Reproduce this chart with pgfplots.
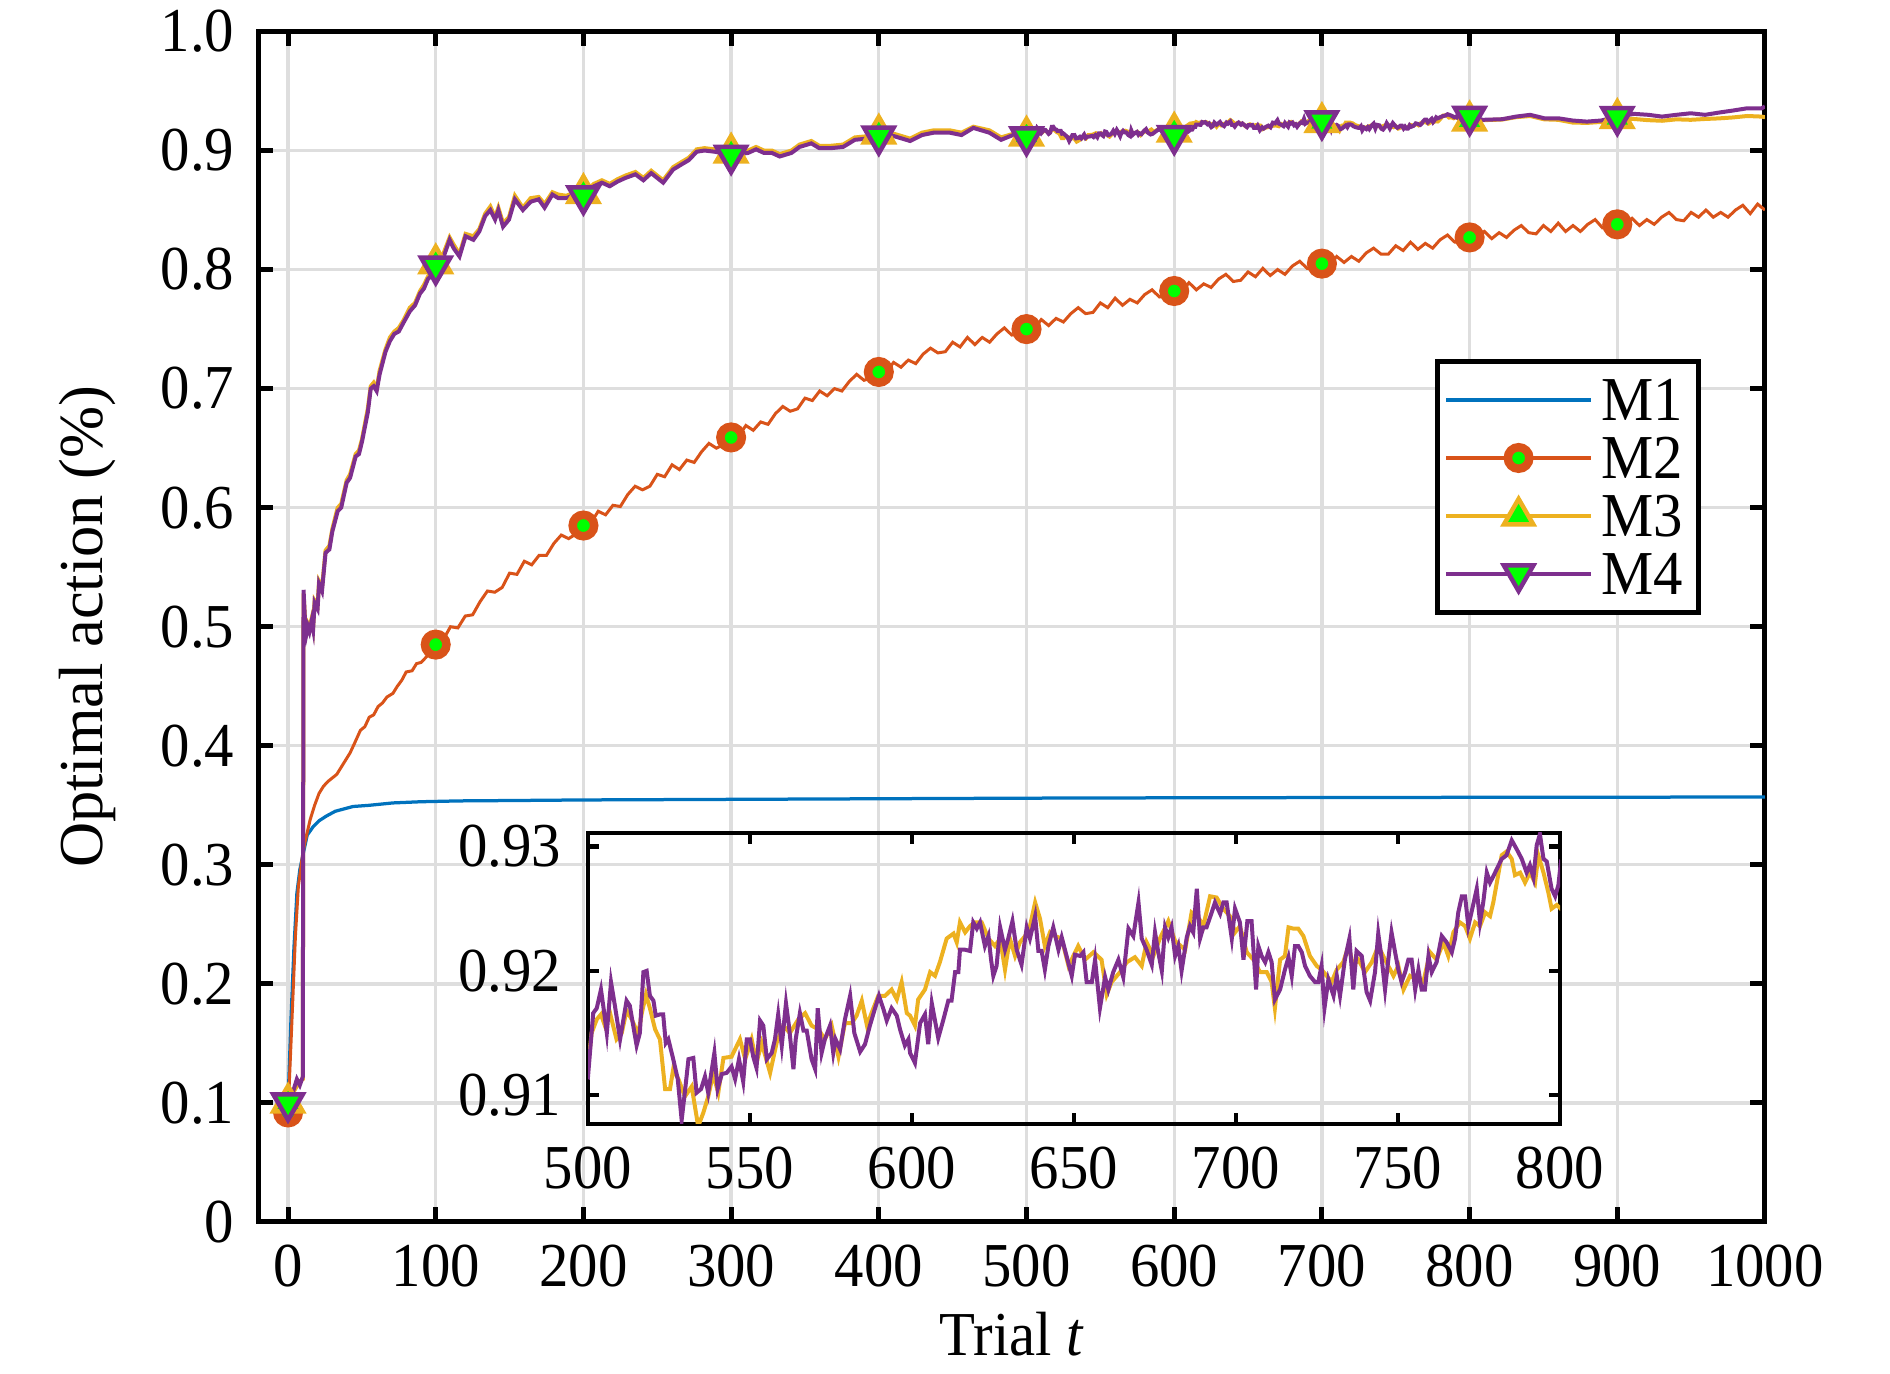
\documentclass[border=0pt]{standalone}
\usepackage{pgfplots}
\pgfplotsset{compat=1.18}
\usepackage{pgfplotstable}
\usepackage{fontspec}
\setmainfont{Liberation Serif}[FakeStretch=0.94]
\newfontfamily\ylabfont{Liberation Serif}
\newcommand{\fs}{\fontsize{12.5}{15}\selectfont}
\definecolor{c1}{RGB}{0,114,189}
\definecolor{c2}{RGB}{217,83,25}
\definecolor{c3}{RGB}{237,177,32}
\definecolor{c4}{RGB}{126,47,142}
\definecolor{mg}{RGB}{0,255,0}
\definecolor{gridc}{RGB}{222,222,222}

\pgfplotstableread{
x y
0 0.100
2 0.170
4 0.230
6 0.276
8 0.296
10.4 0.310
13 0.325
17 0.332
21 0.337
26 0.341
32 0.345
38 0.347
44 0.349
55 0.350
71 0.352
90 0.353
116 0.3537
150 0.354
200 0.3545
300 0.355
400 0.3555
500 0.356
600 0.3563
700 0.3565
800 0.3567
900 0.3568
1000 0.357
}\Mone

\pgfplotstableread{
x y
0 0.092
2 0.150
3.6 0.198
5 0.240
7 0.282
10 0.310
12 0.322
15 0.338
18 0.350
21 0.360
24 0.366
27 0.370
30 0.373
33 0.376
36 0.382
39 0.388
42 0.394
45 0.402
49 0.413
52 0.416
55 0.424
58 0.426
61 0.433
64 0.436
67 0.441
71 0.444
74 0.450
77 0.455
80 0.462
84 0.463
87 0.469
90 0.470
94 0.475
97 0.479
100 0.485
105 0.489
110 0.500
115 0.499
120 0.509
125 0.510
130 0.521
135 0.530
140 0.529
145 0.533
150 0.545
155 0.544
160 0.555
165 0.552
170 0.560
175 0.560
180 0.570
185 0.577
190 0.574
195 0.578
200 0.585
205 0.587
210 0.597
215 0.594
220 0.602
225 0.601
230 0.611
235 0.618
240 0.615
245 0.618
250 0.628
255 0.626
260 0.636
265 0.632
270 0.640
275 0.638
280 0.647
285 0.654
290 0.650
295 0.653
300 0.659
305 0.660
310 0.669
315 0.665
320 0.672
325 0.670
330 0.679
335 0.685
340 0.681
345 0.683
350 0.692
355 0.690
360 0.698
365 0.694
370 0.700
375 0.698
380 0.706
385 0.712
390 0.707
395 0.709
400 0.714
405 0.714
410 0.722
415 0.718
420 0.724
425 0.721
430 0.729
435 0.734
440 0.730
445 0.731
450 0.739
455 0.735
460 0.743
465 0.737
470 0.743
475 0.739
480 0.746
485 0.751
490 0.745
495 0.746
500 0.750
505 0.750
510 0.758
515 0.753
520 0.759
525 0.756
530 0.763
535 0.768
540 0.763
545 0.764
550 0.772
555 0.768
560 0.776
565 0.770
570 0.775
575 0.772
580 0.779
585 0.783
590 0.777
595 0.778
600 0.782
605 0.781
610 0.789
615 0.783
620 0.788
625 0.785
630 0.792
635 0.796
640 0.790
645 0.791
650 0.798
655 0.794
660 0.801
665 0.795
670 0.800
675 0.796
680 0.803
685 0.807
690 0.801
695 0.801
700 0.805
705 0.804
710 0.811
715 0.806
720 0.811
725 0.807
730 0.814
735 0.818
740 0.813
745 0.813
750 0.820
755 0.816
760 0.823
765 0.817
770 0.822
775 0.818
780 0.825
785 0.829
790 0.823
795 0.823
800 0.827
805 0.826
810 0.832
815 0.826
820 0.831
825 0.827
830 0.833
835 0.837
840 0.831
845 0.830
850 0.837
855 0.832
860 0.839
865 0.832
870 0.837
875 0.832
880 0.838
885 0.842
890 0.835
895 0.835
900 0.838
905 0.837
910 0.843
915 0.837
920 0.842
925 0.838
930 0.844
935 0.848
940 0.842
945 0.841
950 0.848
955 0.844
960 0.850
965 0.844
970 0.848
975 0.844
980 0.850
985 0.854
990 0.847
995 0.855
1000 0.850
}\Mtwo

\pgfplotstableread{
x y
0 0.092
100 0.485
200 0.585
300 0.659
400 0.714
500 0.750
600 0.782
700 0.805
800 0.827
900 0.838
}\MtwoM

\pgfplotstableread{
x y
0 0.100
2 0.108
4 0.110
6 0.114
8 0.118
10 0.120
10.5 0.528
11.5 0.507
12.5 0.496
13.5 0.502
14.5 0.499
16 0.507
17 0.500
18 0.522
20 0.518
21 0.538
23 0.533
25.4 0.564
28 0.568
30 0.582
33.6 0.600
36 0.603
39.7 0.623
42 0.628
45.8 0.645
48 0.648
50 0.657
54 0.683
56 0.702
58 0.705
60 0.700
62 0.715
66 0.733
69 0.743
72 0.748
75 0.751
78 0.757
82.5 0.768
86 0.772
89.4 0.782
92 0.787
94.7 0.794
97 0.798
100 0.805
105.4 0.814
109.4 0.827
112.1 0.821
116.1 0.813
120.2 0.830
125.5 0.828
129.5 0.834
133.5 0.847
137 0.853
140.2 0.844
142.4 0.852
145.6 0.839
149.6 0.844
153.6 0.862
159 0.852
164.3 0.860
169.7 0.861
173.7 0.855
179 0.865
183 0.863
188.4 0.862
192.4 0.864
199.6 0.864
207.1 0.872
212.5 0.875
217.8 0.872
223.2 0.876
228.5 0.879
235.2 0.882
240.6 0.877
245.9 0.883
254 0.875
260.7 0.886
266 0.890
271.4 0.894
276.7 0.901
282 0.902
288.8 0.901
300.8 0.898
311.5 0.900
316.9 0.903
322.2 0.900
327.6 0.900
332.9 0.897
340.9 0.900
346.3 0.905
354.3 0.908
359.7 0.904
367.7 0.904
375.8 0.905
383.8 0.911
391.8 0.912
399.8 0.914
410.5 0.914
421.2 0.910
429.2 0.915
437.2 0.917
448 0.917
456 0.915
464 0.920
474.8 0.917
482.8 0.911
490.8 0.914
500 0.9123
501.1 0.9150
502.7 0.9161
504 0.9165
505.2 0.9156
506.8 0.9166
508.8 0.9145
510.4 0.9150
511.9 0.9168
513.5 0.9161
515.5 0.9149
516.6 0.9166
517.9 0.9181
519.1 0.9170
520.7 0.9153
522.2 0.9145
523.8 0.9105
525.3 0.9105
526.3 0.9121
527.9 0.9113
529.9 0.9099
532 0.9107
534 0.9075
535.6 0.9086
537.1 0.9099
538.6 0.9117
540.2 0.9102
541.8 0.9130
544.3 0.9131
546.9 0.9145
548.5 0.9129
550.5 0.9145
552 0.9126
553.6 0.9142
556.2 0.9118
558.2 0.9142
560.3 0.9156
562.3 0.9150
564.9 0.9161
567 0.9166
569 0.9156
571.1 0.9153
573.1 0.9145
575.2 0.9156
577.3 0.9131
579.3 0.9158
581.4 0.9158
582.9 0.9164
584.5 0.9176
586.1 0.9156
587.5 0.9166
589.6 0.9180
591.7 0.9180
593.7 0.9185
595.3 0.9177
596.8 0.9191
598.4 0.9166
599.4 0.9164
600.9 0.9156
601.9 0.9177
604 0.9185
605.6 0.9199
607.1 0.9196
608.6 0.9207
610.7 0.9226
612.8 0.9230
613.8 0.9223
614.8 0.9239
616.4 0.9231
617.9 0.9236
619.4 0.9239
621.5 0.9239
623.6 0.9226
625.6 0.9220
627.2 0.9226
628.7 0.9201
630.2 0.9226
631.8 0.9212
633.3 0.9223
634.9 0.9228
636.4 0.9236
638 0.9255
639.5 0.9242
641 0.9220
642.6 0.9231
644.1 0.9228
646.2 0.9226
648.3 0.9204
649.8 0.9212
651.3 0.9220
653.4 0.9209
656 0.9215
658.5 0.9209
660.1 0.9181
661.6 0.9191
664.2 0.9199
666.3 0.9207
668.8 0.9211
670.9 0.9204
672.4 0.9223
674.5 0.9212
676.5 0.9226
679.1 0.9240
681.2 0.9224
684.3 0.9217
686.3 0.9247
688.4 0.9243
689.9 0.9236
692 0.9260
694 0.9259
696.1 0.9250
698.1 0.9244
699.7 0.9231
701.2 0.9236
703.3 0.9215
705.4 0.9209
707.4 0.9199
709.5 0.9199
711 0.9191
712 0.9170
713.6 0.9209
715.1 0.9212
716.2 0.9235
717.7 0.9234
719.2 0.9234
720.8 0.9228
722.8 0.9212
724.9 0.9204
726.4 0.9201
728 0.9196
729.5 0.9191
731.1 0.9201
733.1 0.9207
734.7 0.9220
736.2 0.9204
737.8 0.9209
739.8 0.9199
741.9 0.9207
743.9 0.9220
746 0.9209
748.6 0.9196
750.1 0.9204
751.7 0.9185
753.7 0.9196
755.8 0.9193
757.8 0.9191
759.9 0.9215
761.9 0.9209
764 0.9223
765.5 0.9212
767.1 0.9231
769.1 0.9239
770.7 0.9236
772.2 0.9226
773.8 0.9239
775.3 0.9236
776.9 0.9247
778.4 0.9244
779.4 0.9255
780.5 0.9271
782 0.9293
783.5 0.9296
785.1 0.9290
786.1 0.9277
787.7 0.9279
789.2 0.9271
790.7 0.9279
792.3 0.9271
793.3 0.9293
794.9 0.9279
796.4 0.9263
797.4 0.9250
799 0.9253
800.2 0.9250
809 0.9255
822 0.9260
831.4 0.9280
841 0.9290
850.5 0.9262
860 0.9258
869.8 0.9235
879.4 0.9232
889 0.9240
900.5 0.9270
911.3 0.9265
921 0.9255
930.3 0.9250
940 0.9262
949.7 0.9258
959.4 0.9265
968.9 0.9270
978.4 0.9278
988 0.9290
997.7 0.9285
1000 0.9280
}\Mthree

\pgfplotstableread{
x y
0 0.100
100 0.805
200 0.864
300 0.898
400 0.914
500 0.9123
600 0.9156
700 0.9236
800 0.9250
900 0.9270
}\MthreeM

\pgfplotstableread{
x y
0 0.100
2 0.105
4 0.112
6 0.120
8 0.115
10 0.122
10.5 0.531
11.5 0.505
12.5 0.494
13.5 0.500
14.5 0.496
16 0.505
17 0.498
18 0.520
20 0.515
21 0.536
23 0.530
25.4 0.562
28 0.565
30 0.580
33.6 0.597
36 0.600
39.7 0.621
42 0.625
45.8 0.643
48 0.645
50 0.655
54 0.680
56 0.700
58 0.702
60 0.698
62 0.712
66 0.731
69 0.740
72 0.746
75 0.748
78 0.755
82.5 0.765
86 0.770
89.4 0.780
92 0.784
94.7 0.792
97 0.795
100 0.803
105.4 0.811
109.4 0.825
112.1 0.818
116.1 0.811
120.2 0.828
125.5 0.825
129.5 0.832
133.5 0.845
137 0.850
140.2 0.842
142.4 0.850
145.6 0.836
149.6 0.842
153.6 0.859
159 0.850
164.3 0.857
169.7 0.859
173.7 0.852
179 0.863
183 0.860
188.4 0.860
192.4 0.862
199.6 0.862
207.1 0.870
212.5 0.873
217.8 0.870
223.2 0.874
228.5 0.877
235.2 0.880
240.6 0.875
245.9 0.881
254 0.873
260.7 0.884
266 0.888
271.4 0.892
276.7 0.899
282 0.900
288.8 0.899
300.8 0.896
311.5 0.898
316.9 0.901
322.2 0.898
327.6 0.898
332.9 0.895
340.9 0.898
346.3 0.903
354.3 0.906
359.7 0.902
367.7 0.902
375.8 0.903
383.8 0.909
391.8 0.910
399.8 0.912
410.5 0.912
421.2 0.908
429.2 0.913
437.2 0.915
448 0.915
456 0.913
464 0.919
474.8 0.915
482.8 0.909
490.8 0.913
500 0.9115
501.6 0.9166
502.7 0.9170
504 0.9185
504.7 0.9172
505.8 0.9150
507.1 0.9191
508.3 0.9172
509.9 0.9145
511.9 0.9176
512.9 0.9172
515 0.9140
516 0.9150
517.1 0.9199
518.1 0.9200
519.1 0.9180
520.2 0.9176
520.9 0.9164
522.2 0.9165
523.2 0.9165
524 0.9142
524.8 0.9145
526.3 0.9129
527.7 0.9113
528.9 0.9080
530 0.9105
531 0.9129
532.5 0.9130
533.5 0.9102
534.9 0.9105
536.1 0.9115
537.1 0.9102
539 0.9134
540 0.9105
541.3 0.9117
542.8 0.9118
544.3 0.9123
545.4 0.9113
546.6 0.9129
547.9 0.9111
549 0.9145
550 0.9145
551 0.9131
552 0.9122
553.1 0.9160
554.1 0.9156
555.2 0.9129
556.7 0.9134
557.7 0.9145
558.7 0.9165
559.8 0.9140
561.1 0.9174
562 0.9156
563.4 0.9121
564.1 0.9145
565.4 0.9166
566.5 0.9152
567.5 0.9152
569 0.9129
570.1 0.9121
570.9 0.9170
572.1 0.9134
573.1 0.9145
574.7 0.9156
575.7 0.9134
576.4 0.9145
577.8 0.9137
579.3 0.9161
580.9 0.9180
582.2 0.9150
584 0.9135
585.5 0.9141
587 0.9156
588.6 0.9170
589.8 0.9180
591.2 0.9169
592.2 0.9160
593.7 0.9170
595.3 0.9164
596.3 0.9153
597.8 0.9140
598.9 0.9145
599.4 0.9134
600.9 0.9126
602.5 0.9158
604 0.9165
605 0.9141
606.1 0.9174
608.1 0.9146
609.7 0.9161
611.2 0.9176
612.2 0.9176
613.3 0.9199
614.3 0.9199
614.8 0.9217
616.4 0.9217
617.9 0.9216
618.9 0.9239
620 0.9234
621 0.9239
622.5 0.9220
623.6 0.9228
624.4 0.9209
625.1 0.9196
626.1 0.9204
627.2 0.9235
628.7 0.9217
629.7 0.9226
631 0.9240
632.3 0.9217
633.8 0.9205
635.4 0.9235
636.4 0.9226
638 0.9244
639 0.9216
640 0.9216
641 0.9201
642.1 0.9220
643.6 0.9235
645.2 0.9217
646.2 0.9227
647.7 0.9212
649.3 0.9196
650.3 0.9213
651.9 0.9212
652.9 0.9215
653.9 0.9191
655.5 0.9191
656.5 0.9209
658 0.9170
659.6 0.9195
660.6 0.9185
662.1 0.9199
663.7 0.9209
665.2 0.9195
666.8 0.9234
668.3 0.9228
669.9 0.9255
670.9 0.9226
672.4 0.9217
674 0.9205
675 0.9231
676 0.9215
677.1 0.9200
678.1 0.9235
679.1 0.9227
680.1 0.9235
681.2 0.9212
682.2 0.9220
683.2 0.9200
684.8 0.9227
685.8 0.9236
686.8 0.9231
687.9 0.9266
688.9 0.9226
689.9 0.9235
690.9 0.9235
692.5 0.9247
693.5 0.9255
695.1 0.9246
696.1 0.9255
697.1 0.9255
698.7 0.9226
699.7 0.9250
701.2 0.9239
702.3 0.9209
703.5 0.9240
704.8 0.9240
706.2 0.9185
706.9 0.9220
707.9 0.9212
709 0.9207
710 0.9215
711 0.9207
712 0.9177
713.6 0.9185
715.1 0.9201
716.2 0.9211
717.2 0.9196
718.2 0.9220
719.2 0.9220
720.3 0.9215
721.3 0.9204
722.8 0.9196
724.4 0.9191
725.4 0.9191
726.4 0.9204
727.3 0.9170
728.5 0.9193
730.1 0.9180
731.1 0.9196
732.1 0.9180
733.6 0.9209
735 0.9226
736.2 0.9185
737.2 0.9216
738.8 0.9212
740.3 0.9183
741.4 0.9176
742.9 0.9199
743.9 0.9230
745 0.9209
746 0.9185
747 0.9209
748 0.9231
749.1 0.9215
750.1 0.9201
751.1 0.9191
752.2 0.9199
753.2 0.9209
754.2 0.9209
755.3 0.9185
756.3 0.9201
757.3 0.9185
758.3 0.9185
759.4 0.9212
760.4 0.9199
761.9 0.9207
763.5 0.9228
765 0.9223
766.6 0.9215
767.6 0.9226
768.6 0.9247
769.7 0.9260
770.7 0.9260
771.7 0.9236
773.1 0.9252
774.3 0.9266
775.3 0.9239
776.3 0.9255
777.4 0.9279
778.4 0.9271
779.4 0.9276
780.5 0.9282
782 0.9290
783.5 0.9293
785.1 0.9305
786.6 0.9298
788.2 0.9290
789.7 0.9279
790.7 0.9285
791.8 0.9275
792.8 0.9301
793.8 0.9310
794.9 0.9290
795.9 0.9288
797.4 0.9266
798.5 0.9260
799.5 0.9269
800.2 0.9286
809 0.9258
822 0.9263
831.4 0.9285
841 0.9300
850.5 0.9271
860 0.9271
869.8 0.9252
879.4 0.9243
889 0.9252
900.5 0.9285
911.3 0.9308
921 0.9300
930.3 0.9285
940 0.9300
949.7 0.9313
959.4 0.9300
968.9 0.9319
978.4 0.9336
988 0.9355
997.7 0.9355
1000 0.9370
}\Mfour

\pgfplotstableread{
x y
0 0.100
100 0.803
200 0.862
300 0.896
400 0.912
500 0.9115
600 0.9126
700 0.9250
800 0.9286
900 0.9285
}\MfourM

\begin{document}
\begin{tikzpicture}
\useasboundingbox (-51.7pt,-30.4pt) rectangle (326.3pt,244.4pt);
\begin{axis}[
  at={(0pt,0pt)}, anchor=south west,
  scale only axis, width=301.3pt, height=238.1pt,
  xmin=-20, xmax=1000, ymin=0, ymax=1,
  xtick={0,100,200,300,400,500,600,700,800,900,1000},
  xticklabels={0,100,200,300,400,500,600,700,800,900,1000},
  ytick={0,0.1,0.2,0.3,0.4,0.5,0.6,0.7,0.8,0.9,1},
  yticklabels={0,0.1,0.2,0.3,0.4,0.5,0.6,0.7,0.8,0.9,1.0},
  grid=major, major grid style={draw=gridc, line width=0.65pt},
  axis line style={line width=1pt},
  every tick/.style={black, line width=1pt}, major tick length=3pt,
  tick label style={font=\fs},
  xticklabel style={yshift=-1.0pt},
  yticklabel style={xshift=-1.3pt},
  xlabel={Trial \textit{t}}, ylabel={Optimal action (\%)},
  xlabel style={at={(axis description cs:0.5,-0.0941)}, anchor=center, font=\fs},
  ylabel style={at={(axis description cs:-0.1138,0.5)}, anchor=center, font=\ylabfont\fs},
  legend image code/.code={\draw[mark repeat=2,mark phase=2,#1] plot coordinates {(0pt,0pt) (14.5pt,0pt) (29pt,0pt)};},
  legend cell align=left,
  legend style={at={(rel axis cs:0.9575,0.7249)}, anchor=north east, draw=black, line width=1pt, font=\fs,
    inner xsep=1.4pt, inner ysep=1.9pt, row sep=0pt,
    nodes={inner xsep=1.7pt, inner ysep=1.65pt, text height=8.3pt, text depth=0pt}},
]
\addlegendimage{c1, line width=0.7pt}
\addlegendentry{M1}
\addlegendimage{c2, line width=0.7pt, mark=*, mark size=2.15pt, mark options={draw=c2, fill=mg, line width=1.7pt, solid}}
\addlegendentry{M2}
\addlegendimage{c3, line width=0.7pt, mark=triangle*, mark size=3.4pt, mark options={draw=c3, fill=mg, line width=0.9pt, solid}}
\addlegendentry{M3}
\addlegendimage{c4, line width=0.7pt, mark=triangle*, mark size=3.4pt, mark options={draw=c4, fill=mg, line width=0.9pt, solid, rotate=180}}
\addlegendentry{M4}

\addplot[c1, line width=0.65pt, no markers, forget plot] table[x=x,y=y] {\Mone};
\addplot[c2, line width=0.6pt, no markers, forget plot] table[x=x,y=y] {\Mtwo};
\addplot[only marks, mark=*, mark size=2.15pt, mark options={draw=c2, fill=mg, line width=1.7pt}, forget plot] table[x=x,y=y] {\MtwoM};
\addplot[c3, line width=0.8pt, no markers, forget plot] table[x=x,y=y] {\Mthree};
\addplot[only marks, mark=triangle*, mark size=3.4pt, mark options={draw=c3, fill=mg, line width=0.9pt}, forget plot] table[x=x,y=y] {\MthreeM};
\addplot[c4, line width=0.8pt, no markers, forget plot] table[x=x,y=y] {\Mfour};
\addplot[only marks, mark=triangle*, mark size=3.4pt, mark options={draw=c4, fill=mg, line width=0.9pt, rotate=180}, forget plot] table[x=x,y=y] {\MfourM};
\end{axis}

\begin{axis}[
  at={(65.9pt,19.6pt)}, anchor=south west,
  scale only axis, width=194.4pt, height=58.2pt,
  xmin=500, xmax=800, ymin=0.9077, ymax=0.9311,
  xtick={500,550,600,650,700,750,800},
  xticklabels={500,550,600,650,700,750,800},
  ytick={0.91,0.92,0.93},
  yticklabels={0.91,0.92,0.93},
  axis line style={line width=0.85pt},
  every tick/.style={black, line width=0.85pt}, major tick length=2.2pt,
  tick label style={font=\fs},
  xticklabel style={yshift=-1.0pt},
  yticklabel style={xshift=-1.9pt},
]
\addplot[c3, line width=0.8pt, no markers] table[x=x,y=y] {\Mthree};
\addplot[c4, line width=0.8pt, no markers] table[x=x,y=y] {\Mfour};
\end{axis}
\end{tikzpicture}
\end{document}
